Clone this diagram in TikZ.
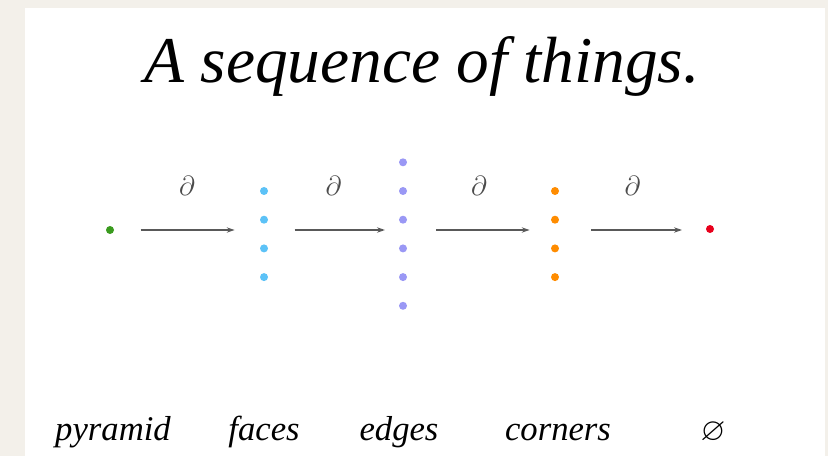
\documentclass[tikz,border=0pt]{standalone}
\usepackage{amssymb}
\usepackage{fontspec}
\setmainfont{Liberation Serif}
\usetikzlibrary{arrows.meta}
\definecolor{paper}{HTML}{F3F0EA}
\definecolor{pyrgreen}{HTML}{3A9B1E}
\definecolor{facecyan}{HTML}{5CC2F7}
\definecolor{edgeviolet}{HTML}{9A98F5}
\definecolor{cornorange}{HTML}{FF8C00}
\definecolor{nullred}{HTML}{E8001C}
\begin{document}
\begin{tikzpicture}[x=0.75pt, y=-0.75pt,
    dot/.style={circle, inner sep=0pt, minimum size=6pt},
    bd/.style={line width=1.1pt, black!65, -{Stealth[length=6pt,width=4pt]},
      shorten <=23pt, shorten >=20pt},
    dlbl/.style={above=22pt, font=\fontsize{22}{26}\selectfont, text=black!70},
    lbl/.style={anchor=base, font=\fontsize{26}{30}\selectfont\itshape}]
  % background and white sheet
  \fill[paper] (0,0) rectangle (828,456);
  \fill[white] (25,8) rectangle (825,456);
  % ---------------- title ----------------
  \node[anchor=base, font=\fontsize{49}{55}\selectfont\itshape] (title) at (422,83) {A sequence of things.};
  % ---------------- columns of dots ----------------
  \node[dot, fill=pyrgreen] (p0) at (110,230) {};
  \foreach \k in {0,...,3}
    \node[dot, fill=facecyan] (f\k) at (264,191+28.7*\k) {};
  \foreach \k in {0,...,5}
    \node[dot, fill=edgeviolet] (e\k) at (403,162.3+28.7*\k) {};
  \foreach \k in {0,...,3}
    \node[dot, fill=cornorange] (c\k) at (555,191+28.7*\k) {};
  \node[dot, fill=nullred] (n0) at (710,229) {};
  % column anchors for the boundary maps
  \coordinate (pyr) at (110,230);
  \coordinate (fac) at (264,230);
  \coordinate (edg) at (403,230);
  \coordinate (cor) at (555,230);
  \coordinate (nul) at (710,230);
  % ---------------- boundary arrows ----------------
  \draw[bd, shorten >=22pt] (pyr) -- node[dlbl] {$\partial$} (fac);
  \draw[bd, shorten >=13.5pt, line width=1.4pt] (fac) -- node[dlbl] {$\partial$} (edg);
  \draw[bd, shorten <=25pt, shorten >=19pt] (edg) -- node[dlbl] {$\partial$} (cor);
  \draw[bd, shorten <=27pt, shorten >=21pt, line width=0.9pt] (cor) -- node[dlbl] {$\partial$} (nul);
  % ---------------- names ----------------
  \node[lbl] (lpyr) at (113,440) {pyramid};
  \node[lbl] (lfac) at (264,440) {faces};
  \node[lbl] (ledg) at (399,440) {edges};
  \node[lbl] (lcor) at (558,440) {corners};
  \node[lbl, font=\fontsize{24}{28}\selectfont] (lnul) at (713,440) {$\varnothing$};
\end{tikzpicture}
\end{document}
